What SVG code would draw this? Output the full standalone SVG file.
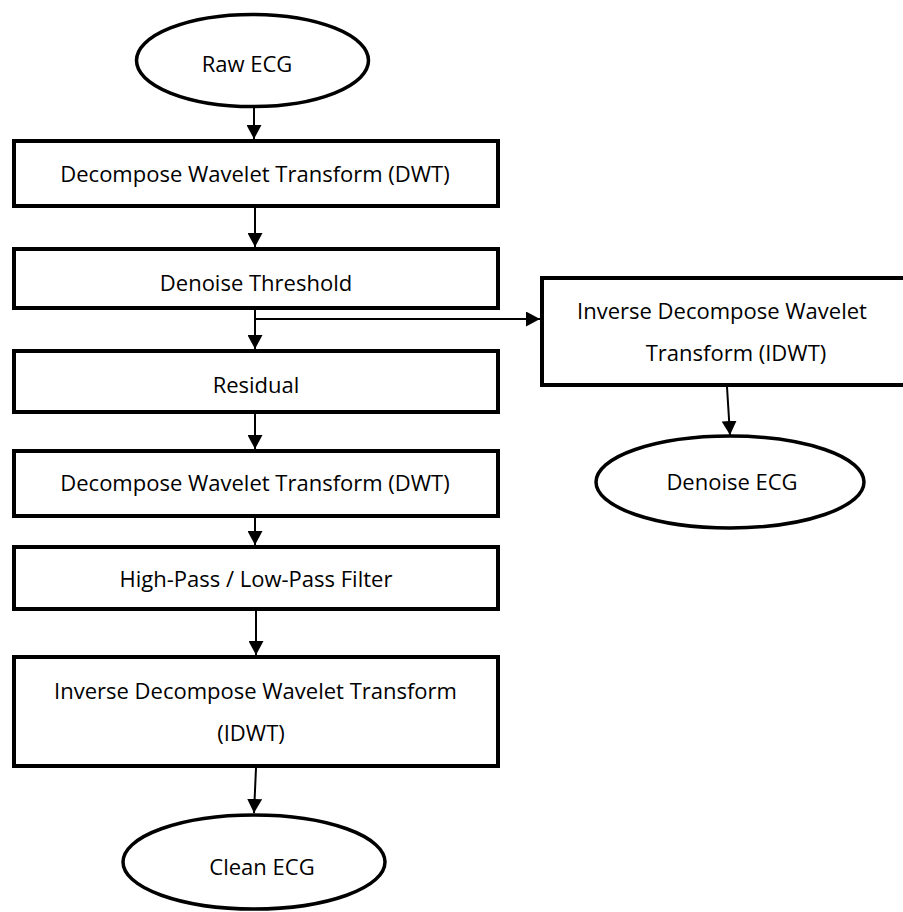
<svg xmlns="http://www.w3.org/2000/svg" width="903" height="912" viewBox="0 0 903 912">
<style>
.box{fill:#fff;stroke:#000;stroke-width:4}
.ell{fill:#fff;stroke:#000;stroke-width:3.5}
.t{font-family:"Open Sans","Noto Sans",sans-serif;font-size:22px;fill:#000;text-anchor:middle}
.c{fill:none;stroke:#000;stroke-width:2}
</style>
<defs>
<marker id="ah" viewBox="0 0 14 15" refX="14" refY="7.5" markerWidth="14" markerHeight="15" markerUnits="userSpaceOnUse" orient="auto">
<path d="M0,0 L14,7.5 L0,15 z" fill="#000"/>
</marker>
</defs>
<rect width="903" height="912" fill="#fff"/>
<g id="connectors">
<path class="c" d="M254,107 L254,139" marker-end="url(#ah)"/>
<path class="c" d="M255,208 L255,247" marker-end="url(#ah)"/>
<path class="c" d="M255,310 L255,349" marker-end="url(#ah)"/>
<path class="c" d="M255,319 L540,319" marker-end="url(#ah)"/>
<path class="c" d="M255,414 L255,449" marker-end="url(#ah)"/>
<path class="c" d="M255,518 L255,545" marker-end="url(#ah)"/>
<path class="c" d="M256,611 L256,655" marker-end="url(#ah)"/>
<path class="c" d="M256,768 L254,813" marker-end="url(#ah)"/>
<path class="c" d="M727,387 L730,435" marker-end="url(#ah)"/>
</g>
<g id="raw-ecg">
<ellipse class="ell" cx="252.5" cy="60.5" rx="116" ry="46"/>
<text class="t" x="247" y="72">Raw ECG</text>
</g>
<g id="dwt1">
<rect class="box" x="14" y="141" width="484" height="65"/>
<text class="t" x="255" y="182">Decompose Wavelet Transform (DWT)</text>
</g>
<g id="denoise-threshold">
<rect class="box" x="14" y="249" width="484" height="59"/>
<text class="t" x="256" y="291">Denoise Threshold</text>
</g>
<g id="residual">
<rect class="box" x="14" y="351" width="484" height="61"/>
<text class="t" x="256" y="393">Residual</text>
</g>
<g id="dwt2">
<rect class="box" x="14" y="451" width="484" height="65"/>
<text class="t" x="255" y="491">Decompose Wavelet Transform (DWT)</text>
</g>
<g id="filter">
<rect class="box" x="14" y="547" width="484" height="62"/>
<text class="t" x="256" y="587">High-Pass / Low-Pass Filter</text>
</g>
<g id="idwt1">
<rect class="box" x="14" y="657" width="484" height="109"/>
<text class="t" x="255.5" y="699">Inverse Decompose Wavelet Transform</text>
<text class="t" x="251" y="741">(IDWT)</text>
</g>
<g id="clean-ecg">
<ellipse class="ell" cx="254" cy="862" rx="131" ry="47"/>
<text class="t" x="262" y="875">Clean ECG</text>
</g>
<g id="idwt2">
<rect class="box" x="542" y="278" width="370" height="107"/>
<text class="t" x="722" y="319">Inverse Decompose Wavelet</text>
<text class="t" x="736" y="361">Transform (IDWT)</text>
</g>
<g id="denoise-ecg">
<ellipse class="ell" cx="730" cy="482" rx="134" ry="46"/>
<text class="t" x="732" y="490">Denoise ECG</text>
</g>
</svg>
